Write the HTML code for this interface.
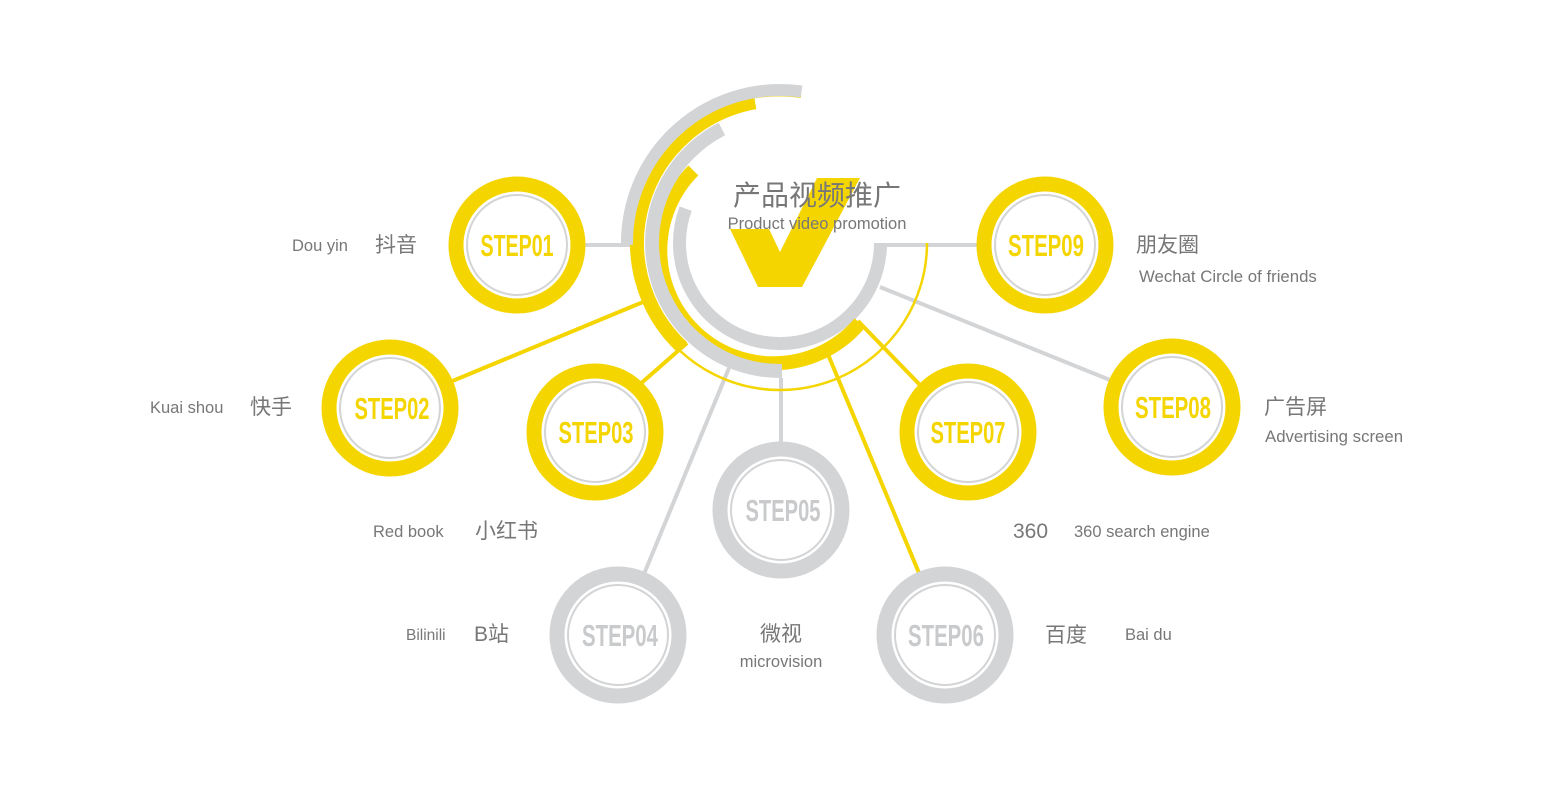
<!DOCTYPE html>
<html><head><meta charset="utf-8"><style>
html,body{margin:0;padding:0;background:#fff;}
svg{display:block;}
.t{font-family:"Liberation Sans","Noto Sans CJK SC",sans-serif;fill:#777;}
.s{font-family:"Liberation Sans Narrow","Liberation Sans",sans-serif;font-weight:bold;font-size:31px;text-anchor:middle;}
</style></head><body>
<svg width="1550" height="800" viewBox="0 0 1550 800" xmlns="http://www.w3.org/2000/svg">
<g stroke-linecap="butt" fill="none">
<line x1="585" y1="245" x2="630" y2="245" stroke="#d3d4d6" stroke-width="4"/>
<line x1="885" y1="245" x2="980" y2="245" stroke="#d3d4d6" stroke-width="4"/>
<line x1="450" y1="382" x2="648" y2="300" stroke="#f5d500" stroke-width="4"/>
<line x1="638" y1="386" x2="687" y2="343" stroke="#f5d500" stroke-width="4"/>
<line x1="644" y1="574" x2="729" y2="368" stroke="#d3d4d6" stroke-width="4"/>
<line x1="781" y1="378" x2="781" y2="442" stroke="#d3d4d6" stroke-width="4"/>
<line x1="919" y1="573" x2="827" y2="352" stroke="#f5d500" stroke-width="4"/>
<line x1="920" y1="385" x2="858" y2="321" stroke="#f5d500" stroke-width="4"/>
<line x1="1110" y1="380" x2="880" y2="287" stroke="#d3d4d6" stroke-width="4"/>
<path d="M880.5 243 A100.5 100.5 0 1 1 685.6 208.6" stroke="#d3d4d6" stroke-width="13"/>
<path d="M693.4 170.4 A113 113 0 1 0 859.9 322.9" stroke="#f5d500" stroke-width="14"/>
<path d="M721.9 129 A128 128 0 0 0 782 371" stroke="#d3d4d6" stroke-width="14"/>
<path d="M755.1 102.2 A143 143 0 0 0 682.5 347.6" stroke="#f5d500" stroke-width="14"/>
<path d="M679.7 350.5 A147 147 0 0 0 927 243" stroke="#f5d500" stroke-width="2.5"/>
<path d="M754 97 A148 148 0 0 1 801 96.5" stroke="#f5d500" stroke-width="3"/>
<path d="M801.5 91.5 A153 153 0 0 0 627 245" stroke="#d3d4d6" stroke-width="12"/>
</g>
<polygon points="730,229 769,229 780,252 817,178 860,178 802,287 758,287" fill="#f5d500"/>
<text class="t" x="817" y="205" font-size="28" text-anchor="middle">产品视频推广</text>
<text class="t" x="817" y="229" font-size="16.5" text-anchor="middle">Product video promotion</text>

<g>
<circle cx="517" cy="245" r="61" fill="#fff" stroke="#f5d500" stroke-width="15"/>
<circle cx="517" cy="245" r="50" fill="none" stroke="#d3d4d6" stroke-width="2"/>
<text class="s" x="517" y="256" fill="#f5d500" textLength="73" lengthAdjust="spacingAndGlyphs">STEP01</text>

<circle cx="390" cy="408" r="61" fill="#fff" stroke="#f5d500" stroke-width="15"/>
<circle cx="390" cy="408" r="50" fill="none" stroke="#d3d4d6" stroke-width="2"/>
<text class="s" x="392" y="419" fill="#f5d500" textLength="75" lengthAdjust="spacingAndGlyphs">STEP02</text>

<circle cx="595" cy="432" r="61" fill="#fff" stroke="#f5d500" stroke-width="15"/>
<circle cx="595" cy="432" r="50" fill="none" stroke="#d3d4d6" stroke-width="2"/>
<text class="s" x="596" y="443" fill="#f5d500" textLength="75" lengthAdjust="spacingAndGlyphs">STEP03</text>

<circle cx="618" cy="635" r="61" fill="#fff" stroke="#d3d4d6" stroke-width="15"/>
<circle cx="618" cy="635" r="50" fill="none" stroke="#d3d4d6" stroke-width="2"/>
<text class="s" x="620" y="646" fill="#c9cacc" textLength="76" lengthAdjust="spacingAndGlyphs">STEP04</text>

<circle cx="781" cy="510" r="61" fill="#fff" stroke="#d3d4d6" stroke-width="15"/>
<circle cx="781" cy="510" r="50" fill="none" stroke="#d3d4d6" stroke-width="2"/>
<text class="s" x="783" y="521" fill="#c9cacc" textLength="75" lengthAdjust="spacingAndGlyphs">STEP05</text>

<circle cx="945" cy="635" r="61" fill="#fff" stroke="#d3d4d6" stroke-width="15"/>
<circle cx="945" cy="635" r="50" fill="none" stroke="#d3d4d6" stroke-width="2"/>
<text class="s" x="946" y="646" fill="#c9cacc" textLength="76" lengthAdjust="spacingAndGlyphs">STEP06</text>

<circle cx="968" cy="432" r="61" fill="#fff" stroke="#f5d500" stroke-width="15"/>
<circle cx="968" cy="432" r="50" fill="none" stroke="#d3d4d6" stroke-width="2"/>
<text class="s" x="968" y="443" fill="#f5d500" textLength="75" lengthAdjust="spacingAndGlyphs">STEP07</text>

<circle cx="1172" cy="407" r="61" fill="#fff" stroke="#f5d500" stroke-width="15"/>
<circle cx="1172" cy="407" r="50" fill="none" stroke="#d3d4d6" stroke-width="2"/>
<text class="s" x="1173" y="418" fill="#f5d500" textLength="76" lengthAdjust="spacingAndGlyphs">STEP08</text>

<circle cx="1045" cy="245" r="61" fill="#fff" stroke="#f5d500" stroke-width="15"/>
<circle cx="1045" cy="245" r="50" fill="none" stroke="#d3d4d6" stroke-width="2"/>
<text class="s" x="1046" y="256" fill="#f5d500" textLength="76" lengthAdjust="spacingAndGlyphs">STEP09</text>
</g>

<text class="t" x="292" y="251" font-size="16.5">Dou yin</text>
<text class="t" x="375" y="252" font-size="21">抖音</text>
<text class="t" x="1136" y="252" font-size="21">朋友圈</text>
<text class="t" x="1139" y="282" font-size="16.8">Wechat Circle of friends</text>
<text class="t" x="150" y="413" font-size="16.5">Kuai shou</text>
<text class="t" x="250" y="414" font-size="21">快手</text>
<text class="t" x="1264" y="414" font-size="21">广告屏</text>
<text class="t" x="1265" y="442" font-size="16.8">Advertising screen</text>
<text class="t" x="373" y="537" font-size="16.5">Red book</text>
<text class="t" x="475" y="538" font-size="21">小红书</text>
<text class="t" x="1013" y="538" font-size="21">360</text>
<text class="t" x="1074" y="537" font-size="16.5">360 search engine</text>
<text class="t" x="406" y="640" font-size="15.5">Bilinili</text>
<text class="t" x="474" y="641" font-size="21">B站</text>
<text class="t" x="781" y="641" font-size="21" text-anchor="middle">微视</text>
<text class="t" x="781" y="667" font-size="16.5" text-anchor="middle">microvision</text>
<text class="t" x="1045" y="642" font-size="21">百度</text>
<text class="t" x="1125" y="640" font-size="16.5">Bai du</text>
</svg>
</body></html>
